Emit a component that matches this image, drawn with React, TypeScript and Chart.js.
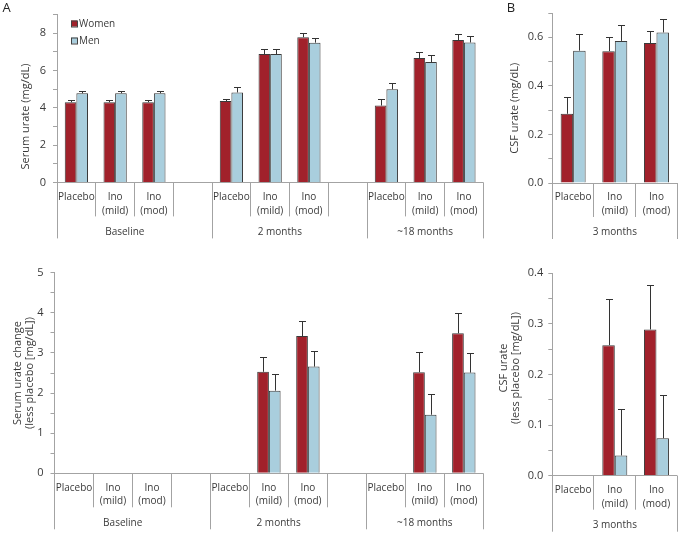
import React, { useEffect, useRef } from 'react';
import { Chart, registerables } from 'chart.js';
Chart.register(...registerables);

// ---------- data ----------
const treatments: string[][] = [['Placebo'], ['Ino', '(mild)'], ['Ino', '(mod)']];
const serumTimepoints = ['Baseline', '2 months', '~18 months'];
const csfTimepoints = ['3 months'];
const seriesNames = ['Women', 'Men'];

// Panel A top: serum urate (mg/dL); null = empty spacer slot
const serumWomen = [4.3, 4.3, 4.3, null, 4.36, 6.88, 7.78, null, 4.12, 6.67, 7.63];
const serumWomenErr = [0.12, 0.12, 0.12, null, 0.11, 0.25, 0.25, null, 0.37, 0.32, 0.33];
const serumMen = [4.78, 4.78, 4.78, null, 4.82, 6.88, 7.49, null, 4.99, 6.45, 7.5];
const serumMenErr = [0.13, 0.13, 0.13, null, 0.29, 0.28, 0.25, null, 0.35, 0.38, 0.36];

// Panel B top: CSF urate (mg/dL)
const csfWomen = [0.285, 0.543, 0.576];
const csfWomenErr = [0.07, 0.057, 0.048];
const csfMen = [0.545, 0.585, 0.62];
const csfMenErr = [0.067, 0.065, 0.055];

// Panel A bottom: serum urate change (less placebo)
const changeWomen = [null, null, null, null, null, 2.53, 3.42, null, null, 2.52, 3.49];
const changeWomenErr = [null, null, null, null, null, 0.38, 0.38, null, null, 0.5, 0.5];
const changeMen = [null, null, null, null, null, 2.06, 2.66, null, null, 1.46, 2.51];
const changeMenErr = [null, null, null, null, null, 0.41, 0.4, null, null, 0.52, 0.5];

// Panel B bottom: CSF urate change (less placebo)
const csfChangeWomen = [null, 0.258, 0.289];
const csfChangeWomenErr = [null, 0.091, 0.088];
const csfChangeMen = [null, 0.04, 0.074];
const csfChangeMenErr = [null, 0.092, 0.086];

// ---------- styling ----------
const WOMEN_COLOR = '#A1212B';
const MEN_COLOR = '#A9CEDD';
const BAR_BORDER = '#3a3a3a';
const AXIS_COLOR = '#a3a3a3';
const TEXT_COLOR = '#3a3a3a';
const FONT = '"Open Sans", "DejaVu Sans", sans-serif';

type Group = { label: string; start: number; count: number };

function buildSerumCats() {
  const cats: string[][] = [];
  const groups: Group[] = [];
  serumTimepoints.forEach((tp, gi) => {
    const start = cats.length;
    treatments.forEach((t) => cats.push(t));
    if (gi < serumTimepoints.length - 1) cats.push(['']);
    groups.push({ label: tp, start, count: cats.length - start });
  });
  return { cats, groups };
}
function buildCsfCats() {
  const cats: string[][] = treatments.slice();
  const groups: Group[] = [{ label: csfTimepoints[0], start: 0, count: cats.length }];
  return { cats, groups };
}

type Panel = {
  key: string;
  left: number; top: number; width: number; height: number;
  area: { left: number; right: number; top: number; bottom: number };
  yMax: number; yStep: number; labelEvery: number; decimals: number; tickPad: number;
  cats: string[][]; groups: Group[];
  women: (number | null)[]; womenErr: (number | null)[];
  men: (number | null)[]; menErr: (number | null)[];
  title: string[]; titleX: number; titleY: number;
  letter?: string; letterX?: number; letterY?: number;
  legend?: boolean;
};

const serumAxis = buildSerumCats();
const csfAxis = buildCsfCats();

const panels: Panel[] = [
  {
    key: 'tl', left: 0, top: 0, width: 495, height: 250,
    area: { left: 57, right: 483.3, top: 14.5, bottom: 182.4 },
    yMax: 9, yStep: 1, labelEvery: 2, decimals: 0, tickPad: 7,
    cats: serumAxis.cats, groups: serumAxis.groups,
    women: serumWomen, womenErr: serumWomenErr, men: serumMen, menErr: serumMenErr,
    title: ['Serum urate (mg/dL)'], titleX: 25.5, titleY: 116.5,
    letter: 'A', letterX: 6.5, letterY: 8, legend: true,
  },
  {
    key: 'tr', left: 495, top: 0, width: 186, height: 250,
    area: { left: 552.3, right: 677.3, top: 13, bottom: 183 },
    yMax: 0.7, yStep: 0.1, labelEvery: 0.2, decimals: 1, tickPad: 5,
    cats: csfAxis.cats, groups: csfAxis.groups,
    women: csfWomen, womenErr: csfWomenErr, men: csfMen, menErr: csfMenErr,
    title: ['CSF urate (mg/dL)'], titleX: 514.7, titleY: 108.3,
    letter: 'B', letterX: 511, letterY: 8,
  },
  {
    key: 'bl', left: 0, top: 250, width: 495, height: 283,
    area: { left: 54.5, right: 483.3, top: 272.7, bottom: 473.3 },
    yMax: 5, yStep: 0.5, labelEvery: 1, decimals: 0, tickPad: 7,
    cats: serumAxis.cats, groups: serumAxis.groups,
    women: changeWomen, womenErr: changeWomenErr, men: changeMen, menErr: changeMenErr,
    title: ['Serum urate change', '(less placebo [mg/dL])'], titleX: 24, titleY: 373,
  },
  {
    key: 'br', left: 495, top: 250, width: 186, height: 283,
    area: { left: 552.3, right: 677.3, top: 273.3, bottom: 475.7 },
    yMax: 0.4, yStep: 0.05, labelEvery: 0.1, decimals: 1, tickPad: 5,
    cats: csfAxis.cats, groups: csfAxis.groups,
    women: csfChangeWomen, womenErr: csfChangeWomenErr, men: csfChangeMen, menErr: csfChangeMenErr,
    title: ['CSF urate', '(less placebo [mg/dL])'], titleX: 510, titleY: 368,
  },
];

function crisp(v: number) {
  return Math.round(v) + 0.5;
}

function makePlugin(p: Panel, errs: (number | null)[][]) {
  return {
    id: 'decor_' + p.key,
    afterDatasetsDraw(chart: any) {
      const ctx = chart.ctx as CanvasRenderingContext2D;
      const y = chart.scales.y;
      ctx.save();
      ctx.strokeStyle = '#333';
      ctx.lineWidth = 1;
      chart.data.datasets.forEach((ds: any, di: number) => {
        const meta = chart.getDatasetMeta(di);
        ds.data.forEach((v: number | null, i: number) => {
          const e = errs[di][i];
          if (v == null || e == null) return;
          const el = meta.data[i];
          const x = crisp(el.x);
          const y0 = y.getPixelForValue(v);
          const y1 = Math.round(y.getPixelForValue(v + e)) + 0.5;
          ctx.beginPath();
          ctx.moveTo(x, y0);
          ctx.lineTo(x, y1);
          ctx.moveTo(x - 3.5, y1);
          ctx.lineTo(x + 3.5, y1);
          ctx.stroke();
        });
      });
      ctx.restore();
    },
    afterDraw(chart: any) {
      const ctx = chart.ctx as CanvasRenderingContext2D;
      const ca = chart.chartArea;
      const xs = chart.scales.x;
      const ys = chart.scales.y;
      const base = ys.getPixelForValue(0);
      const n = p.cats.length;
      const slot = (ca.right - ca.left) / n;
      const groupBounds = new Set<number>();
      p.groups.forEach((g) => {
        groupBounds.add(g.start);
        groupBounds.add(g.start + g.count);
      });
      ctx.save();
      ctx.strokeStyle = AXIS_COLOR;
      ctx.lineWidth = 1;
      // baseline
      ctx.beginPath();
      ctx.moveTo(ca.left, crisp(base - 0.5));
      ctx.lineTo(ca.right, crisp(base - 0.5));
      ctx.stroke();
      // separators
      for (let i = 0; i <= n; i++) {
        const bx = crisp(ca.left + i * slot - 0.5);
        const len = groupBounds.has(i) ? 56 : 34;
        ctx.beginPath();
        ctx.moveTo(bx, base);
        ctx.lineTo(bx, base + len);
        ctx.stroke();
      }
      // category labels
      ctx.fillStyle = TEXT_COLOR;
      ctx.font = `10px ${FONT}`;
      ctx.textAlign = 'center';
      ctx.textBaseline = 'middle';
      p.cats.forEach((lines, i) => {
        const cx = xs.getPixelForValue(i);
        lines.forEach((t, k) => ctx.fillText(t, cx, base + 14.5 + k * 13.8));
      });
      // group labels
      p.groups.forEach((g) => {
        const centerSlot = g.start + g.count / 2 - (g.count > 3 ? 0.25 : 0);
        ctx.fillText(g.label, ca.left + centerSlot * slot, base + 49.5);
      });
      // y title
      ctx.font = `11px ${FONT}`;
      ctx.save();
      ctx.translate(p.titleX - p.left, p.titleY - p.top);
      ctx.rotate(-Math.PI / 2);
      const L = p.title.length;
      p.title.forEach((t, k) => ctx.fillText(t, 0, (k - (L - 1) / 2) * 12));
      ctx.restore();
      // panel letter
      if (p.letter) {
        ctx.font = `13px ${FONT}`;
        ctx.fillStyle = '#222';
        ctx.fillText(p.letter, p.letterX! - p.left, p.letterY! - p.top);
      }
      // legend
      if (p.legend) {
        ctx.font = `10px ${FONT}`;
        ctx.textAlign = 'left';
        chart.data.datasets.forEach((ds: any, di: number) => {
          const ly = 23.5 + di * 17 - p.top;
          const lx = 71 - p.left;
          ctx.fillStyle = ds.backgroundColor;
          ctx.fillRect(lx, ly - 3, 6, 6);
          ctx.strokeStyle = '#444';
          ctx.strokeRect(lx + 0.5, ly - 2.5, 6, 6);
          ctx.fillStyle = TEXT_COLOR;
          ctx.fillText(ds.label, lx + 8, ly + 0.5);
        });
      }
      ctx.restore();
    },
  };
}

function PanelChart({ p }: { p: Panel }) {
  const ref = useRef<HTMLCanvasElement>(null);
  useEffect(() => {
    if (!ref.current) return;
    const a = p.area;
    const padTop = a.top - p.top;
    const padBottom = p.top + p.height - a.bottom;
    const padRight = p.left + p.width - a.right;
    const yWidth = a.left - p.left;
    const every = p.labelEvery;
    const chart = new Chart(ref.current, {
      type: 'bar',
      data: {
        labels: p.cats.map((c) => c.join(' ')),
        datasets: [
          {
            label: seriesNames[0],
            data: p.women as any,
            backgroundColor: WOMEN_COLOR,
            borderColor: BAR_BORDER,
            borderWidth: 1,
          },
          {
            label: seriesNames[1],
            data: p.men as any,
            backgroundColor: MEN_COLOR,
            borderColor: BAR_BORDER,
            borderWidth: 1,
          },
        ],
      },
      options: {
        responsive: false,
        animation: false,
        devicePixelRatio: 1,
        events: [],
        layout: { padding: { left: 0, top: padTop, right: padRight, bottom: padBottom } },
        plugins: { legend: { display: false }, tooltip: { enabled: false } },
        datasets: { bar: { categoryPercentage: 0.6, barPercentage: 1.0 } } as any,
        scales: {
          x: { display: false, offset: true },
          y: {
            min: 0,
            max: p.yMax,
            ticks: {
              stepSize: p.yStep,
              autoSkip: false,
              padding: p.tickPad,
              color: TEXT_COLOR,
              font: { family: FONT, size: 11 },
              callback: (v: any) => {
                const r = v / every;
                return Math.abs(r - Math.round(r)) < 1e-6 ? Number(v).toFixed(p.decimals) : '';
              },
            },
            grid: { drawOnChartArea: false, drawTicks: true, tickLength: 4, color: AXIS_COLOR },
            border: { color: AXIS_COLOR },
            afterFit: (s: any) => {
              s.width = yWidth;
            },
          },
        },
      } as any,
      plugins: [makePlugin(p, [p.womenErr, p.menErr])],
    });
    return () => chart.destroy();
  }, [p]);
  return (
    <canvas
      ref={ref}
      width={p.width}
      height={p.height}
      style={{ position: 'absolute', left: p.left, top: p.top, width: p.width, height: p.height }}
    />
  );
}

export default function App() {
  useEffect(() => {
    document.body.style.margin = '0';
  }, []);
  return (
    <div style={{ position: 'relative', width: 681, height: 533, background: '#fff', overflow: 'hidden' }}>
      {panels.map((p) => (
        <PanelChart key={p.key} p={p} />
      ))}
    </div>
  );
}
